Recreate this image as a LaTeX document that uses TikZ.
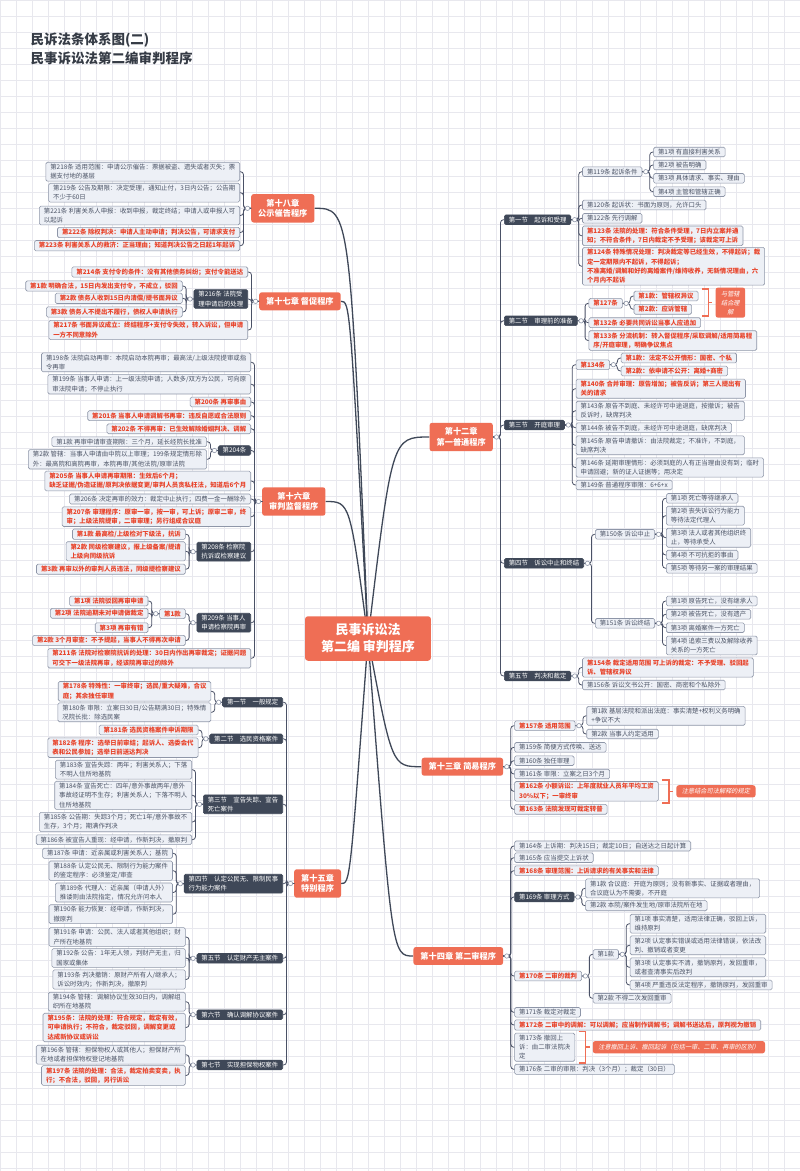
\documentclass[tikz,border=0pt]{standalone}
\usepackage{fontspec}
\setmainfont{Noto Sans CJK SC}
\newfontfamily\slfont[FakeSlant=0.2]{Noto Sans CJK SC}
\usetikzlibrary{calc}
\definecolor{org}{HTML}{EF6E55}
\definecolor{drk}{HTML}{3F4858}
\definecolor{boxf}{HTML}{EDF0F6}
\definecolor{boxd}{HTML}{8E96A8}
\definecolor{txtg}{HTML}{4B5365}
\definecolor{txtr}{HTML}{E8442B}
\definecolor{lnc}{HTML}{4A5166}
\definecolor{gridc}{HTML}{E8E8EE}
\definecolor{ttl}{HTML}{353B45}
\pgfdeclarelayer{gridlayer}
\pgfdeclarelayer{background}
\pgfsetlayers{gridlayer,background,main}
\tikzset{
  gb/.style={draw=boxd, fill=boxf, text=txtg, rounded corners=1.5pt, line width=0.6pt,
    inner xsep=4.5pt, inner ysep=1.8pt, align=left, font={\fontsize{6.4}{9.3}\selectfont}},
  rb/.style={gb, text=txtr, font={\fontsize{6.4}{9.3}\selectfont\bfseries}},
  db/.style={gb, draw=drk, fill=drk, text=white},
  chap/.style={fill=org, text=white, rounded corners=2.5pt, inner xsep=7pt, inner ysep=5pt,
    align=center, font={\fontsize{8.2}{10.5}\selectfont\bfseries}},
  rootst/.style={fill=org, text=white, rounded corners=3pt, inner xsep=16pt, inner ysep=7.5pt,
    align=center, font={\fontsize{13}{17}\selectfont\bfseries}},
  note/.style={fill=org, text=white, rounded corners=2.5pt, inner xsep=5.5pt, inner ysep=3.2pt,
    align=center, font={\fontsize{6.2}{9}\slfont}},
  conn/.style={draw=lnc, line width=0.8pt, rounded corners=3pt},
  trunk/.style={draw=drk, line width=1.3pt},
  knob/.style={circle, draw=boxd, fill=white, inner sep=0pt, minimum size=4.4pt, line width=0.6pt},
  brk/.style={draw=org, line width=1.6pt},
  gridln/.style={draw=gridc, line width=0.5pt},
  titlest/.style={anchor=west, text=ttl, font={\fontsize{13.5}{16}\selectfont\bfseries}}
}
\newcommand\kidL[5]{\coordinate (tmpc) at ([xshift=-11pt]#3.west); \node[#1,anchor=east] (#2) at (tmpc |- 0,#4) {#5};}
\newcommand\kidR[5]{\coordinate (tmpc) at ([xshift=11pt]#3.east); \node[#1,anchor=west] (#2) at (tmpc |- 0,#4) {#5};}
\newcommand\treeL[2]{\foreach \nn in {#2}{\draw[conn] (#1.west) -- ++(-7.5,0) |- (\nn.east);}\node[knob] at ([xshift=-3.5pt]#1.west) {};}
\newcommand\treeR[2]{\foreach \nn in {#2}{\draw[conn] (#1.east) -- ++(7.5,0) |- (\nn.west);}\node[knob] at ([xshift=3.5pt]#1.east) {};}
\begin{document}
\begin{tikzpicture}[x=1pt,y=-1pt]
\useasboundingbox (0,0) rectangle (800,1171);
\begin{pgfonlayer}{gridlayer}
\fill[white] (0,0) rectangle (800,1171);
\foreach \gx in {0,16,...,800} \draw[gridln] (\gx,0) -- (\gx,1171);
\foreach \gy in {0,16,...,1168} \draw[gridln] (0,\gy) -- (800,\gy);
\end{pgfonlayer}

\node[titlest] (t1) at (27,40) {民诉法条体系图(二)};
\node[titlest] (t2) at (27,58) {民事诉讼法第二编审判程序};

\node[rootst] (root) at (368,638.5) {民事诉讼法\\第二编 审判程序};

\node[chap,anchor=west] (ch18) at (251,208.3) {第十八章\\公示催告程序};
\node[chap,anchor=west] (ch17) at (259,301.3) {第十七章 督促程序};
\node[chap,anchor=west] (ch16) at (262,501.5) {第十六章\\审判监督程序};
\node[chap,anchor=west] (ch15) at (294,883.5) {第十五章\\特别程序};
\node[chap,anchor=east] (ch12) at (493,437) {第十二章\\第一普通程序};
\node[chap,anchor=east] (ch13) at (503.3,766.7) {第十三章 简易程序};
\node[chap,anchor=east] (ch14) at (503.3,956) {第十四章 第二审程序};

% ---- chapter 18
\kidL{gb}{n218}{ch18}{171.7}{第218条 适用范围：申请公示催告：票据被盗、遗失或者灭失；票\\据支付地的基层}
\kidL{gb}{n219}{ch18}{192.7}{第219条 公告及期限：决定受理，通知止付，3日内公告；公告期\\不少于60日}
\kidL{gb}{n221}{ch18}{215.5}{第221条 利害关系人申报：收到申报，裁定终结；申请人或申报人可\\以起诉}
\kidL{rb}{n222}{ch18}{232.5}{第222条 除权判决：申请人主动申请；判决公告，可请求支付}
\kidL{rb}{n223}{ch18}{245.7}{第223条 利害关系人的救济：正当理由；知道判决公告之日起1年起诉}
\treeL{ch18}{n218,n219,n221,n222,n223}

% ---- chapter 17
\kidL{rb}{n214}{ch17}{272}{第214条 支付令的条件：没有其他债务纠纷；支付令能送达}
\kidL{db}{n216}{ch17}{299}{第216条 法院受\\理申请后的处理}
\kidL{rb}{n217}{ch17}{330}{第217条 书面异议成立：终结程序+支付令失效，转入诉讼，但申请\\一方不同意除外}
\treeL{ch17}{n214,n216,n217}
\kidL{rb}{n216a}{n216}{286}{第1款 明确合法，15日内发出支付令，不成立，驳回}
\kidL{rb}{n216b}{n216}{298.3}{第2款 债务人收到15日内清偿/提书面异议}
\kidL{rb}{n216c}{n216}{312}{第3款 债务人不提出不履行，债权人申请执行}
\treeL{n216}{n216a,n216b,n216c}

% ---- chapter 16
\kidL{gb}{n198}{ch16}{362.3}{第198条 法院启动再审：本院启动本院再审；最高法/上级法院提审或指\\令再审}
\kidL{gb}{n199}{ch16}{384.3}{第199条 当事人申请：上一级法院申请；人数多/双方为公民，可向原\\审法院申请；不停止执行}
\kidL{rb}{n200}{ch16}{402}{第200条 再审事由}
\kidL{rb}{n201}{ch16}{415.7}{第201条 当事人申请调解书再审：违反自愿或合法原则}
\kidL{rb}{n202}{ch16}{428.8}{第202条 不得再审：已生效解除婚姻判决、调解}
\kidL{db}{n204}{ch16}{450.5}{第204条}
\kidL{rb}{n205}{ch16}{481}{第205条 当事人申请再审期限：生效后6个月；\\缺乏证据/伪造证据/原判决依据变更/审判人员贪私枉法，知道后6个月}
\kidL{gb}{n206}{ch16}{499}{第206条 决定再审的效力：裁定中止执行；四费一金一酬除外}
\kidL{rb}{n207}{ch16}{516.7}{第207条 审理程序：原审一审，按一审，可上诉；原审二审，终\\审；上级法院提审，二审审理；另行组成合议庭}
\kidL{db}{n208}{ch16}{551.7}{第208条 检察院\\抗诉或检察建议}
\kidL{db}{n209}{ch16}{622.7}{第209条 当事人\\申请检察院再审}
\kidL{rb}{n211}{ch16}{658.3}{第211条 法院对检察院抗诉的处理：30日内作出再审裁定；证据问题\\可交下一级法院再审，经该院再审过的除外}
\treeL{ch16}{n198,n199,n200,n201,n202,n204,n205,n206,n207,n208,n209,n211}
\kidL{gb}{n204a}{n204}{441.7}{第1款 再审申请审查期限：三个月，延长经院长批准}
\kidL{gb}{n204b}{n204}{459.3}{第2款 管辖：当事人申请由中院以上审理；199条规定情形除\\外：最高院和高院再审，本院再审/其他法院/原审法院}
\treeL{n204}{n204a,n204b}
\kidL{rb}{n208a}{n208}{534.2}{第1款 最高检/上级检对下级法，抗诉}
\kidL{rb}{n208b}{n208}{551.3}{第2款 同级检察建议，报上级备案/提请\\上级向同级抗诉}
\kidL{rb}{n208c}{n208}{569.2}{第3款 再审以外的审判人员违法，同级提检察建议}
\treeL{n208}{n208a,n208b,n208c}
\kidL{rb}{n209a}{n209}{613.7}{第1款}
\kidL{rb}{n209b}{n209}{640.5}{第2款 3个月审查：不予提起，当事人不得再次申请}
\treeL{n209}{n209a,n209b}
\kidL{rb}{n209a1}{n209a}{601}{第1项 法院驳回再审申请}
\kidL{rb}{n209a2}{n209a}{613.3}{第2项 法院逾期未对申请做裁定}
\kidL{rb}{n209a3}{n209a}{627.7}{第3项 再审有错}
\treeL{n209a}{n209a1,n209a2,n209a3}

% ---- chapter 15
\kidL{db}{s1}{ch15}{702.2}{第一节　一般规定}
\kidL{db}{s2}{ch15}{738.8}{第二节　选民资格案件}
\kidL{db}{s3}{ch15}{804.3}{第三节　宣告失踪、宣告\\死亡案件}
\kidL{db}{s4}{ch15}{883.7}{第四节　认定公民无、限制民事\\行为能力案件}
\kidL{db}{s5}{ch15}{958.3}{第五节　认定财产无主案件}
\kidL{db}{s6}{ch15}{1014.7}{第六节　确认调解协议案件}
\kidL{db}{s7}{ch15}{1065}{第七节　实现担保物权案件}
\treeL{ch15}{s1,s2,s3,s4,s5,s6,s7}
\kidL{rb}{n178}{s1}{691.3}{第178条 特殊性：一审终审；选民/重大疑难，合议\\庭；其余独任审理}
\kidL{gb}{n180}{s1}{712.3}{第180条 审限：立案日30日/公告期满30日；特殊情\\况院长批：除选民案}
\treeL{s1}{n178,n180}
\kidL{rb}{n181}{s2}{730}{第181条 选民资格案件申诉期限}
\kidL{rb}{n182}{s2}{747.7}{第182条 程序：选举日前审结；起诉人、选委会代\\表和公民参加；选举日前送达判决}
\treeL{s2}{n181,n182}
\kidL{gb}{n183}{s3}{769.7}{第183条 宣告失踪：两年；利害关系人；下落\\不明人住所地基院}
\kidL{gb}{n184}{s3}{795.3}{第184条 宣告死亡：四年/意外事故两年/意外\\事故经证明不生存；利害关系人；下落不明人\\住所地基院}
\kidL{gb}{n185}{s3}{822}{第185条 公告期：失踪3个月；死亡1年/意外事故不\\生存，3个月；期满作判决}
\kidL{gb}{n186}{s3}{839.7}{第186条 被宣告人重现：经申请，作新判决，撤原判}
\treeL{s3}{n183,n184,n185,n186}
\kidL{gb}{n187}{s4}{853.3}{第187条 申请：近亲属或利害关系人；基院}
\kidL{gb}{n188}{s4}{870.7}{第188条 认定公民无、限制行为能力案件\\的鉴定程序：必须鉴定/审查}
\kidL{gb}{n189}{s4}{892.5}{第189条 代理人：近亲属（申请人外）\\推诿则由法院指定，情况允许问本人}
\kidL{gb}{n190}{s4}{914.2}{第190条 能力恢复：经申请，作新判决，\\撤原判}
\treeL{s4}{n187,n188,n189,n190}
\kidL{gb}{n191}{s5}{937}{第191条 申请：公民、法人或者其他组织；财\\产所在地基院}
\kidL{gb}{n192}{s5}{958}{第192条 公告：1年无人领，判财产无主，归\\国家或集体}
\kidL{gb}{n193}{s5}{979.5}{第193条 判决撤销：原财产所有人/继承人；\\诉讼时效内；作新判决，撤原判}
\treeL{s5}{n191,n192,n193}
\kidL{gb}{n194}{s6}{1001.7}{第194条 管辖：调解协议生效30日内，调解组\\织所在地基院}
\kidL{rb}{n195}{s6}{1027.5}{第195条：法院的处理：符合规定，裁定有效，\\可申请执行；不符合，裁定驳回，调解变更或\\达成新协议或诉讼}
\treeL{s6}{n194,n195}
\kidL{gb}{n196}{s7}{1054.7}{第196条 管辖：担保物权人或其他人；担保财产所\\在地或者担保物权登记地基院}
\kidL{rb}{n197}{s7}{1075.5}{第197条 法院的处理：合法，裁定拍卖变卖，执\\行；不合法，驳回，另行诉讼}
\treeL{s7}{n196,n197}

% ---- chapter 12
\kidR{db}{r1}{ch12}{219.7}{第一节　起诉和受理}
\kidR{db}{r2}{ch12}{320.8}{第二节　审理前的准备}
\kidR{db}{r3}{ch12}{425}{第三节　开庭审理}
\kidR{db}{r4}{ch12}{563.3}{第四节　诉讼中止和终结}
\kidR{db}{r5}{ch12}{676}{第五节　判决和裁定}
\treeR{ch12}{r1,r2,r3,r4,r5}
\kidR{gb}{m119}{r1}{171.7}{第119条 起诉条件}
\kidR{gb}{m120}{r1}{205}{第120条 起诉状：书面为原则，允许口头}
\kidR{gb}{m122}{r1}{218.3}{第122条 先行调解}
\kidR{rb}{m123}{r1}{235.8}{第123条 法院的处理：符合条件受理，7日内立案并通\\知；不符合条件，7日内裁定不予受理；该裁定可上诉}
\kidR{rb}{m124}{r1}{266.3}{第124条 特殊情况处理：判决裁定等已经生效，不得起诉；裁\\定一定期限内不起诉，不得起诉；\\不准离婚/调解和好的离婚案件/维持收养，无新情况理由，六\\个月内不起诉}
\treeR{r1}{m119,m120,m122,m123,m124}
\kidR{gb}{m119a}{m119}{152}{第1项 有直接利害关系}
\kidR{gb}{m119b}{m119}{165}{第2项 被告明确}
\kidR{gb}{m119c}{m119}{178.3}{第3项 具体请求、事实、理由}
\kidR{gb}{m119d}{m119}{191.7}{第4项 主管和管辖正确}
\treeR{m119}{m119a,m119b,m119c,m119d}
\kidR{rb}{m127}{r2}{303.3}{第127条}
\kidR{rb}{m132}{r2}{322.7}{第132条 必要共同诉讼当事人应追加}
\kidR{rb}{m133}{r2}{340.5}{第133条 分流机制：转入督促程序/采取调解/适用简易程\\序/开庭审理，明确争议焦点}
\treeR{r2}{m127,m132,m133}
\kidR{rb}{m127a}{m127}{296}{第1款：管辖权异议}
\kidR{rb}{m127b}{m127}{309.3}{第2款：应诉管辖}
\treeR{m127}{m127a,m127b}
\kidR{rb}{m134}{r3}{364.7}{第134条}
\kidR{rb}{m140}{r3}{388.7}{第140条 合并审理：原告增加；被告反诉；第三人提出有\\关的请求}
\kidR{gb}{m143}{r3}{410.8}{第143条 原告不到庭、未经许可中途退庭，按撤诉；被告\\反诉时，缺席判决}
\kidR{gb}{m144}{r3}{427.7}{第144条 被告不到庭，未经许可中途退庭，缺席判决}
\kidR{gb}{m145}{r3}{445.3}{第145条 原告申请撤诉：由法院裁定；不准许，不到庭，\\缺席判决}
\kidR{gb}{m146}{r3}{467.5}{第146条 延期审理情形：必须到庭的人有正当理由没有到；临时\\申请回避；新的证人证据等；用决定}
\kidR{gb}{m149}{r3}{485}{第149条 普通程序审限：6+6+x}
\treeR{r3}{m134,m140,m143,m144,m145,m146,m149}
\kidR{rb}{m134a}{m134}{358}{第1款：法定不公开情形：国密、个私}
\kidR{rb}{m134b}{m134}{371}{第2款：依申请不公开：离婚+商密}
\treeR{m134}{m134a,m134b}
\kidR{gb}{m150}{r4}{534.3}{第150条 诉讼中止}
\kidR{gb}{m151}{r4}{623.3}{第151条 诉讼终结}
\treeR{r4}{m150,m151}
\kidR{gb}{m150a}{m150}{498.3}{第1项 死亡等待继承人}
\kidR{gb}{m150b}{m150}{515.7}{第2项 丧失诉讼行为能力\\等待法定代理人}
\kidR{gb}{m150c}{m150}{537.7}{第3项 法人或者其他组织终\\止，等待承受人}
\kidR{gb}{m150d}{m150}{555}{第4项 不可抗拒的事由}
\kidR{gb}{m150e}{m150}{568.3}{第5项 等待另一案的审理结果}
\treeR{m150}{m150a,m150b,m150c,m150d,m150e}
\kidR{gb}{m151a}{m151}{601}{第1项 原告死亡，没有继承人}
\kidR{gb}{m151b}{m151}{614.3}{第2项 被告死亡，没有遗产}
\kidR{gb}{m151c}{m151}{627.7}{第3项 离婚案件一方死亡}
\kidR{gb}{m151d}{m151}{645.5}{第4项 追索三费以及解除收养\\关系的一方死亡}
\treeR{m151}{m151a,m151b,m151c,m151d}
\kidR{rb}{m154}{r5}{667.5}{第154条 裁定适用范围 可上诉的裁定：不予受理、驳回起\\诉、管辖权异议}
\kidR{gb}{m156}{r5}{685}{第156条 诉讼文书公开：国密、商密和个私除外}
\treeR{r5}{m154,m156}

% ---- chapter 13
\kidR{rb}{k157}{ch13}{725.7}{第157条 适用范围}
\kidR{gb}{k159}{ch13}{747.3}{第159条 简便方式传唤、送达}
\kidR{gb}{k160}{ch13}{760.7}{第160条 独任审理}
\kidR{gb}{k161}{ch13}{774}{第161条 审限：立案之日3个月}
\kidR{rb}{k162}{ch13}{791.3}{第162条 小额诉讼：上年度就业人员年平均工资\\30\%以下；一审终审}
\kidR{rb}{k163}{ch13}{809.3}{第163条 法院发现可裁定转普}
\treeR{ch13}{k157,k159,k160,k161,k162,k163}
\kidR{gb}{k157a}{k157}{715.8}{第1款 基层法院和派出法庭：事实清楚+权利义务明确\\+争议不大}
\kidR{gb}{k157b}{k157}{734}{第2款 当事人约定适用}
\treeR{k157}{k157a,k157b}

% ---- chapter 14
\kidR{gb}{h164}{ch14}{846}{第164条 上诉期：判决15日；裁定10日；自送达之日起计算}
\kidR{gb}{h165}{ch14}{857.7}{第165条 应当提交上诉状}
\kidR{rb}{h168}{ch14}{870.7}{第168条 审理范围：上诉请求的有关事实和法律}
\kidR{db}{h169}{ch14}{897}{第169条 审理方式}
\kidR{rb}{h170}{ch14}{976}{第170条 二审的裁判}
\kidR{gb}{h171}{ch14}{1012.3}{第171条 裁定对裁定}
\kidR{rb}{h172}{ch14}{1025}{第172条 二审中的调解：可以调解；应当制作调解书；调解书送达后，原判视为撤销}
\kidR{gb}{h173}{ch14}{1047.2}{第173条 撤回上\\诉：由二审法院决\\定}
\kidR{gb}{h176}{ch14}{1069.3}{第176条 二审的审限：判决（3个月）；裁定（30日）}
\treeR{ch14}{h164,h165,h168,h169,h170,h171,h172,h173,h176}
\kidR{gb}{h169a}{h169}{888.3}{第1款 合议庭：开庭为原则；没有新事实、证据或者理由，\\合议庭认为不需要，不开庭}
\kidR{gb}{h169b}{h169}{905.7}{第2款 本院/案件发生地/原审法院所在地}
\treeR{h169}{h169a,h169b}
\kidR{gb}{h170a}{h170}{954.3}{第1款}
\kidR{gb}{h170b}{h170}{998.3}{第2款 不得二次发回重审}
\treeR{h170}{h170a,h170b}
\kidR{gb}{h170a1}{h170a}{923.7}{第1项 事实清楚，适用法律正确，驳回上诉，\\维持原判}
\kidR{gb}{h170a2}{h170a}{945.3}{第2项 认定事实错误或适用法律错误，依法改\\判、撤销或者变更}
\kidR{gb}{h170a3}{h170a}{967.3}{第3项 认定事实不清，撤销原判，发回重审，\\或者查清事实后改判}
\kidR{gb}{h170a4}{h170a}{985}{第4项 严重违反法定程序，撤销原判，发回重审}
\treeR{h170a}{h170a1,h170a2,h170a3,h170a4}

% ---- brackets and notes
\coordinate (b1t) at ([xshift=4pt,yshift=1.5pt]m127a.north east);
\coordinate (b1b) at ([yshift=-1.5pt]b1t |- m127b.south);
\draw[brk] (b1t) -- ++(6,0) coordinate (b1v) |- (b1b);
\draw[brk] ($(b1v)!0.5!(b1v |- b1b)$) -- ++(4,0) coordinate (b1e);
\node[note,anchor=west] (note1) at ([xshift=3pt]b1e) {与管辖\\结合理\\解};

\coordinate (b2t) at ([xshift=3.5pt,yshift=1.5pt]k162.north east);
\coordinate (b2b) at ([yshift=-1.5pt]b2t |- k162.south);
\draw[brk] (b2t) -- ++(7,0) coordinate (b2v) |- (b2b);
\draw[brk] ($(b2v)!0.5!(b2v |- b2b)$) -- ++(4,0) coordinate (b2e);
\node[note,anchor=west] (note2) at ([xshift=3pt]b2e) {注意结合司法解释的规定};

\coordinate (b3t) at ([xshift=3.5pt,yshift=1.5pt]h173.north east);
\coordinate (b3b) at ([yshift=-1.5pt]b3t |- h173.south);
\draw[brk] (b3t) -- ++(7,0) coordinate (b3v) |- (b3b);
\draw[brk] ($(b3v)!0.5!(b3v |- b3b)$) -- ++(4,0) coordinate (b3e);
\node[note,anchor=west] (note3) at ([xshift=3pt]b3e) {注意撤回上诉、撤回起诉（包括一审、二审、再审的区别）};

% ---- trunk lines
\begin{pgfonlayer}{background}
\foreach \ch in {ch18,ch17,ch16,ch15} \draw[trunk] (root.center) .. controls (350,0 |- \ch.east) .. (\ch.east);
\foreach \ch in {ch12,ch13,ch14} \draw[trunk] (root.center) .. controls (392,0 |- \ch.west) .. (\ch.west);
\end{pgfonlayer}
\end{tikzpicture}
\end{document}
